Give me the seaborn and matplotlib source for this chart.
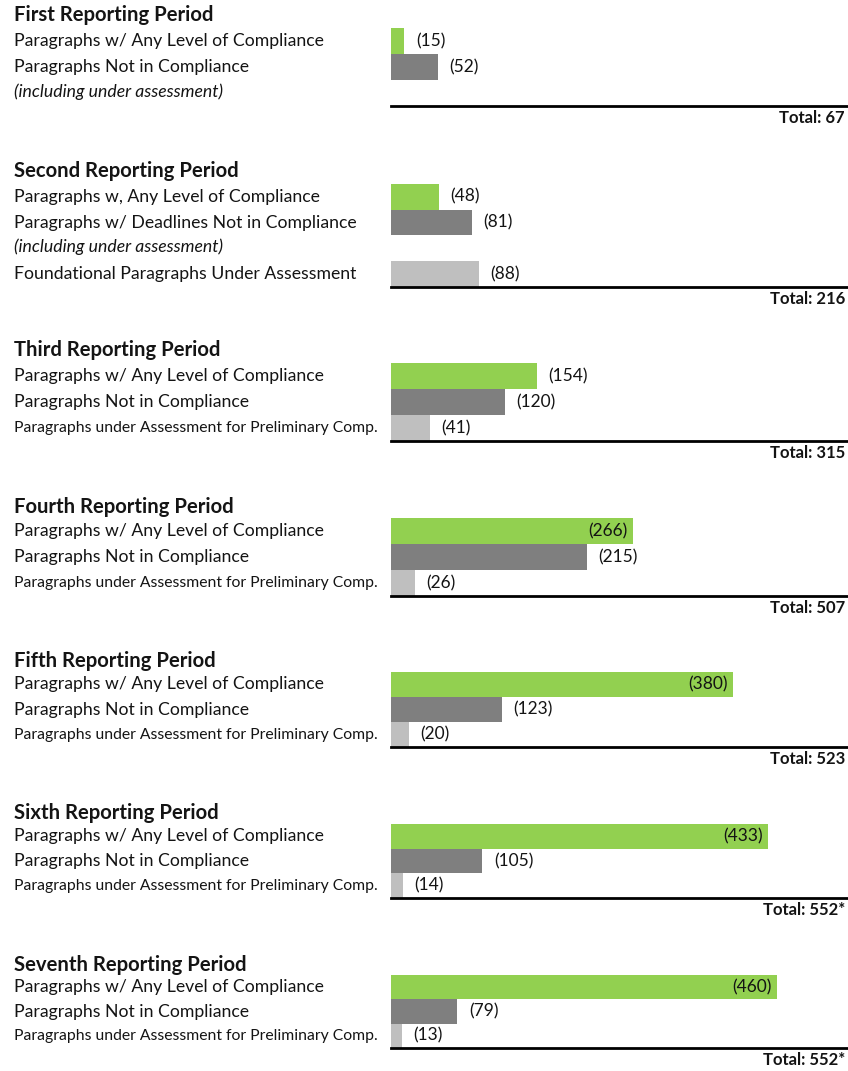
import matplotlib
matplotlib.use('Agg')

import pandas as pd
import seaborn as sns
import matplotlib.pyplot as plt
from matplotlib.transforms import blended_transform_factory

# ==========================================
# DATA
# ==========================================
periods = ["First Reporting Period", "Second Reporting Period", "Third Reporting Period",
           "Fourth Reporting Period", "Fifth Reporting Period", "Sixth Reporting Period",
           "Seventh Reporting Period"]
comp_vals = [15, 48, 154, 266, 380, 433, 460]
notcomp_vals = [52, 81, 120, 215, 123, 105, 79]
assess_vals = [None, 88, 41, 26, 20, 14, 13]
totals = ["Total: 67", "Total: 216", "Total: 315", "Total: 507", "Total: 523",
          "Total: 552*", "Total: 552*"]

comp_labels = ["Paragraphs w/ Any Level of Compliance", "Paragraphs w, Any Level of Compliance"] + \
              ["Paragraphs w/ Any Level of Compliance"] * 5
notcomp_labels = ["Paragraphs Not in Compliance", "Paragraphs w/ Deadlines Not in Compliance"] + \
                 ["Paragraphs Not in Compliance"] * 5
assess_labels = [None, "Foundational Paragraphs Under Assessment"] + \
                ["Paragraphs under Assessment for Preliminary Comp."] * 5
notes = ["(including under assessment)", "(including under assessment)", None, None, None, None, None]

COLORS = {'comp': '#92D050', 'not': '#7F7F7F', 'note': '#FFFFFF', 'assess': '#BFBFBF'}

# ==========================================
# LAYOUT (pixels of the 848x1071 canvas)
# ==========================================
W, H = 848, 1071
X0, X1 = 391, 848
LABEL_X = 14
title_y = [15, 171, 350, 507, 661, 813, 965]
ax_top = [28, 184, 363, 518, 672, 824, 975]
ax_bot = [106, 287, 441, 596, 747, 898, 1048]
x_max = [508, 457, 481, 502, 508, 525, 544]

FONT = ['Lato', 'DejaVu Sans']
plt.rcParams['font.family'] = FONT
TXT = '#141414'

fig = plt.figure(figsize=(W / 100, H / 100), dpi=100)

for i, period in enumerate(periods):
    kinds, vals, labels = ['comp', 'not'], [comp_vals[i], notcomp_vals[i]], [comp_labels[i], notcomp_labels[i]]
    order = ['comp', 'not']
    if notes[i]:
        order.append('note')
    if assess_vals[i] is not None:
        kinds.append('assess')
        vals.append(assess_vals[i])
        labels.append(assess_labels[i])
        order.append('assess')
    df = pd.DataFrame({'kind': kinds, 'value': vals, 'label': labels})

    ax = fig.add_axes([X0 / W, 1 - ax_bot[i] / H, (X1 - X0) / W, (ax_bot[i] - ax_top[i]) / H])
    sns.barplot(data=df, x='value', y='kind', hue='kind', order=order, palette=COLORS,
                orient='h', width=1.0, saturation=1, legend=False, ax=ax)
    ax.set_xlim(0, x_max[i])
    ax.set_ylim(len(order) - 0.5, -0.5)
    ax.set_xlabel('')
    ax.set_ylabel('')
    ax.set_xticks([])
    ax.set_yticks([])
    for s in ['top', 'right', 'left']:
        ax.spines[s].set_visible(False)
    ax.spines['bottom'].set_linewidth(2)
    ax.spines['bottom'].set_color('black')
    ax.set_facecolor('none')

    # value labels
    for k, v in zip(kinds, vals):
        yy = order.index(k)
        if v / x_max[i] > 0.5:
            ax.text(v - x_max[i] * 0.012, yy, f"({v})", ha='right', va='center',
                    fontsize=12.5, color=TXT)
        else:
            ax.text(v + x_max[i] * 0.025, yy, f"({v})", ha='left', va='center',
                    fontsize=12.5, color=TXT)

    # left hand labels
    tr = blended_transform_factory(fig.transFigure, ax.transData)
    for k, lab in zip(kinds, labels):
        small = lab.startswith('Paragraphs under')
        ax.text(LABEL_X / W, order.index(k), lab, transform=tr, ha='left', va='center',
                fontsize=11.3 if small else 12.7, color=TXT, clip_on=False)
    if notes[i]:
        ax.text(LABEL_X / W, order.index('note') - 0.05, notes[i], transform=tr, ha='left',
                va='center', fontsize=12.7, style='italic', color=TXT, clip_on=False)

    fig.text(LABEL_X / W, 1 - title_y[i] / H, period, ha='left', va='center',
             fontsize=14.6, fontweight='bold', color=TXT)
    fig.text(845 / W, 1 - (ax_bot[i] + 12) / H, totals[i], ha='right', va='center',
             fontsize=12, fontweight='bold', color=TXT)

fig.savefig('out.png', dpi=100)
